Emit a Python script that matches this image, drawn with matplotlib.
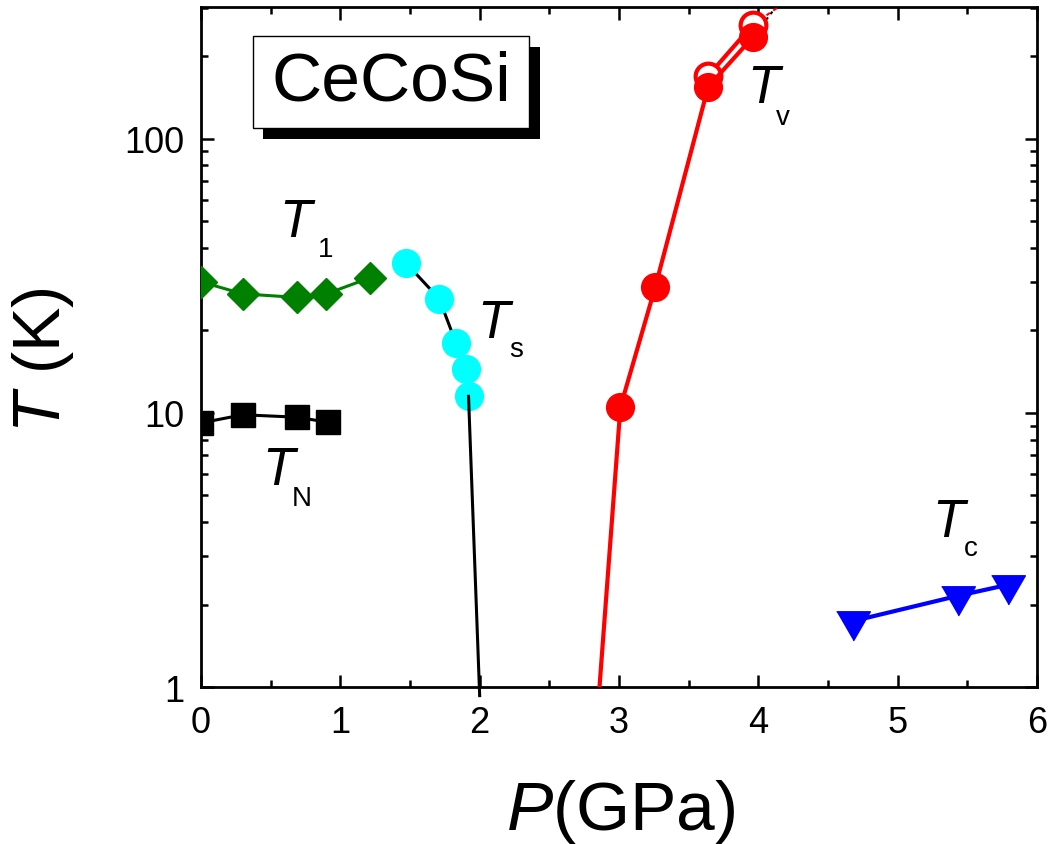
import matplotlib
matplotlib.use("Agg")
import matplotlib.pyplot as plt
from matplotlib.patches import Rectangle
from matplotlib.ticker import MultipleLocator, LogLocator, FuncFormatter, NullFormatter

plt.rcParams['font.family'] = ['Liberation Sans', 'DejaVu Sans']
plt.rcParams['mathtext.fontset'] = 'custom'
plt.rcParams['mathtext.it'] = 'Liberation Sans:italic'
plt.rcParams['mathtext.rm'] = 'Liberation Sans'

# ---------------- data ----------------
tn_p = [0.0, 0.30, 0.69, 0.91]
tn_t = [9.2, 9.85, 9.65, 9.25]

t1_p = [0.0, 0.30, 0.69, 0.90, 1.21]
t1_t = [30.1, 27.2, 26.4, 27.2, 31.1]

ts_p = [1.47, 1.71, 1.83, 1.90, 1.92]
ts_t = [35.3, 26.1, 18.0, 14.5, 11.5]
ts_ext_p = [1.92, 2.00]
ts_ext_t = [11.5, 0.93]

tv_p = [3.01, 3.26, 3.64, 3.96]
tv_t = [10.5, 28.8, 155, 235]
tv_ext_p = [2.86, 3.01]
tv_ext_t = [1.0, 10.5]
tv_open_p = [3.64, 3.96]
tv_open_t = [170, 261]
tv_dot_p = [3.96, 4.25]
tv_dot_t = [261, 330]
tv_bdot_p = [3.96, 4.12]
tv_bdot_t = [235, 300]

tc_p = [4.68, 5.43, 5.79]
tc_t = [1.74, 2.15, 2.36]

x_ticks = [0, 1, 2, 3, 4, 5, 6]
y_ticks = [1, 10, 100]

# ---------------- figure ----------------
W, H = 1055, 845
fig = plt.figure(figsize=(W / 100, H / 100), dpi=100)
L, R, B, T = 201, 1037, 688, 8
ax = fig.add_axes([L / W, 1 - B / H, (R - L) / W, (B - T) / H])
ax.set_yscale('log')
ax.set_xlim(0, 6)
ax.set_ylim(1, 303)

tri = [(-1.0, 0.577), (1.0, 0.577), (0.0, -1.155)]

# T_N
ax.plot(tn_p, tn_t, color='black', lw=2.2, marker='s', ms=17.5, mfc='black', mec='black', zorder=4)
# T_1
ax.plot(t1_p, t1_t, color='#008000', lw=2.2, marker='D', ms=16.5, mfc='#008000', mec='#008000', zorder=4)
# T_s
ax.plot(ts_p, ts_t, color='black', lw=2.2, zorder=3)
ax.plot(ts_p, ts_t, ls='none', marker='o', ms=20, mfc='#00FFFF', mec='#00FFFF', zorder=4)
ax.plot(ts_ext_p, ts_ext_t, color='black', lw=2.2, clip_on=False, zorder=5)
# T_v
ax.plot(tv_dot_p, tv_dot_t, color='red', lw=1.5, ls=(0, (2, 2)), zorder=3)
ax.plot(tv_bdot_p, tv_bdot_t, color='black', lw=1.5, ls=(0, (1.5, 2)), zorder=3)
ax.plot(tv_open_p, tv_open_t, color='red', lw=3, marker='o', ms=18.5, mfc='white', mec='red', mew=3, zorder=4)
ax.plot(tv_ext_p, tv_ext_t, color='red', lw=3, zorder=5)
ax.plot(tv_p, tv_t, color='red', lw=3, marker='o', ms=20, mfc='red', mec='red', zorder=5)
# T_c
ax.plot(tc_p, tc_t, color='#0000FF', lw=3, marker=tri, ms=28, mfc='#0000FF', mec='#0000FF', zorder=4)

# ---------------- axes styling ----------------
for s in ax.spines.values():
    s.set_linewidth(2.0)
ax.set_xticks(x_ticks)
ax.xaxis.set_minor_locator(MultipleLocator(0.5))
ax.set_yticks(y_ticks)
ax.yaxis.set_minor_locator(LogLocator(base=10, subs=range(2, 10)))
ax.yaxis.set_major_formatter(FuncFormatter(lambda v, p: '%g' % v))
ax.yaxis.set_minor_formatter(NullFormatter())
ax.tick_params(which='both', direction='in', top=True, right=True, width=1.8)
ax.tick_params(which='major', length=9, labelsize=26)
ax.tick_params(which='minor', length=5)
ax.tick_params(axis='x', which='major', pad=13)
ax.tick_params(axis='y', which='major', pad=12)

# axis labels
fig.text(43 / W, 1 - 360 / H, r'$T$ (K)', rotation=90, ha='center', va='center', fontsize=48)
fig.text(621 / W, 1 - 830 / H, r'$P$(GPa)', ha='center', va='baseline', fontsize=50)

# ---------------- annotation box ----------------
def fx(px):
    return (px - L) / (R - L)

def fy(py):
    return (B - py) / (B - T)

ax.add_patch(Rectangle((fx(263), fy(140)), fx(540) - fx(263), fy(48) - fy(140),
                       transform=ax.transAxes, facecolor='black', edgecolor='none', zorder=6))
ax.add_patch(Rectangle((fx(253), fy(129)), fx(529) - fx(253), fy(37) - fy(129),
                       transform=ax.transAxes, facecolor='white', edgecolor='black', lw=1.0, zorder=7))
ax.text(fx(391), fy(83), 'CeCoSi', transform=ax.transAxes, ha='center', va='center',
        fontsize=50, zorder=8)

# curve labels
def lab(tx, ty, sx, sy, sub):
    ax.text(fx(tx), fy(ty), 'T', style='italic', fontsize=38, transform=ax.transAxes,
            ha='left', va='baseline', zorder=8)
    ax.text(fx(sx), fy(sy), sub, fontsize=20, transform=ax.transAxes,
            ha='left', va='baseline', zorder=8)

lab(279, 237, 318, 257, '1')
lab(477, 338, 509, 357, 's')
lab(262, 485, 292, 506, 'N')
lab(747, 103, 776, 125, 'v')
lab(932, 537, 964, 556, 'c')

fig.savefig('out.png', dpi=100)
